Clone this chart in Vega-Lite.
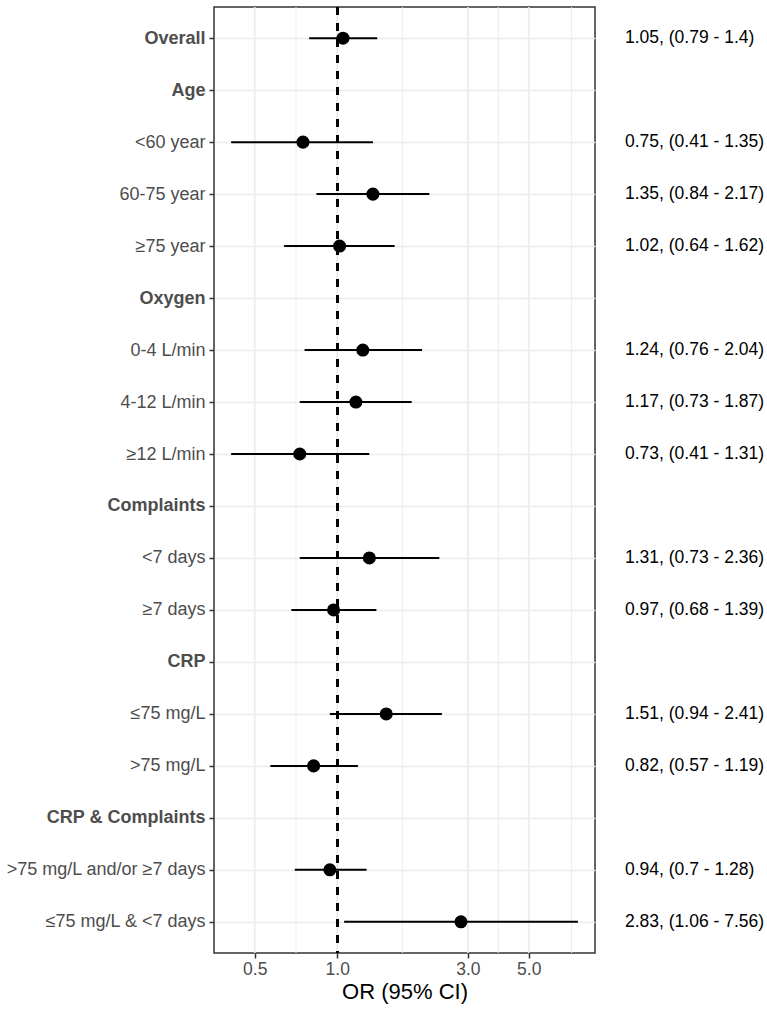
{
  "$schema": "https://vega.github.io/schema/vega-lite/v6.json",
  "padding": {"left": 4, "top": 5, "right": 0, "bottom": 0},
  "background": "white",
  "config": {"font": "Liberation Sans"},
  "datasets": {
    "rows": [
      {"label": "Overall", "or": 1.05, "lo": 0.79, "hi": 1.4, "txt": "1.05, (0.79 - 1.4)"},
      {"label": "Age", "or": null, "lo": null, "hi": null, "txt": ""},
      {"label": "<60 year", "or": 0.75, "lo": 0.41, "hi": 1.35, "txt": "0.75, (0.41 - 1.35)"},
      {"label": "60-75 year", "or": 1.35, "lo": 0.84, "hi": 2.17, "txt": "1.35, (0.84 - 2.17)"},
      {"label": "≥75 year", "or": 1.02, "lo": 0.64, "hi": 1.62, "txt": "1.02, (0.64 - 1.62)"},
      {"label": "Oxygen", "or": null, "lo": null, "hi": null, "txt": ""},
      {"label": "0-4 L/min", "or": 1.24, "lo": 0.76, "hi": 2.04, "txt": "1.24, (0.76 - 2.04)"},
      {"label": "4-12 L/min", "or": 1.17, "lo": 0.73, "hi": 1.87, "txt": "1.17, (0.73 - 1.87)"},
      {"label": "≥12 L/min", "or": 0.73, "lo": 0.41, "hi": 1.31, "txt": "0.73, (0.41 - 1.31)"},
      {"label": "Complaints", "or": null, "lo": null, "hi": null, "txt": ""},
      {"label": "<7 days", "or": 1.31, "lo": 0.73, "hi": 2.36, "txt": "1.31, (0.73 - 2.36)"},
      {"label": "≥7 days", "or": 0.97, "lo": 0.68, "hi": 1.39, "txt": "0.97, (0.68 - 1.39)"},
      {"label": "CRP", "or": null, "lo": null, "hi": null, "txt": ""},
      {"label": "≤75 mg/L", "or": 1.51, "lo": 0.94, "hi": 2.41, "txt": "1.51, (0.94 - 2.41)"},
      {"label": ">75 mg/L", "or": 0.82, "lo": 0.57, "hi": 1.19, "txt": "0.82, (0.57 - 1.19)"},
      {"label": "CRP & Complaints", "or": null, "lo": null, "hi": null, "txt": ""},
      {"label": ">75 mg/L and/or ≥7 days", "or": 0.94, "lo": 0.7, "hi": 1.28, "txt": "0.94, (0.7 - 1.28)"},
      {"label": "≤75 mg/L & <7 days", "or": 2.83, "lo": 1.06, "hi": 7.56, "txt": "2.83, (1.06 - 7.56)"}
    ],
    "grid": [
      {"g": 0.5, "kind": "major"},
      {"g": 1.0, "kind": "major"},
      {"g": 3.0, "kind": "major"},
      {"g": 5.0, "kind": "major"},
      {"g": 0.7071, "kind": "minor"},
      {"g": 1.732, "kind": "minor"},
      {"g": 3.873, "kind": "minor"},
      {"g": 7.17, "kind": "minor"}
    ]
  },
  "hconcat": [
    {
      "width": 381,
      "height": 946,
      "view": {"stroke": "#333333", "strokeWidth": 1.5},
      "layer": [
        {
          "data": {"name": "grid"},
          "transform": [{"filter": "datum.kind == 'major'"}],
          "mark": {"type": "rule", "color": "#EBEBEB", "strokeWidth": 1.7},
          "encoding": {
            "x": {"field": "g", "type": "quantitative", "scale": {"type": "log", "domain": [0.355, 8.73], "nice": false}}
          }
        },
        {
          "data": {"name": "grid"},
          "transform": [{"filter": "datum.kind == 'minor'"}],
          "mark": {"type": "rule", "color": "#EBEBEB", "strokeWidth": 0.9},
          "encoding": {
            "x": {"field": "g", "type": "quantitative"}
          }
        },
        {
          "data": {"name": "rows"},
          "mark": {"type": "rule", "color": "black", "strokeWidth": 2},
          "encoding": {
            "y": {
              "field": "label", "type": "nominal", "sort": null,
              "scale": {"type": "point", "padding": 0.6, "domain": ["Overall", "Age", "<60 year", "60-75 year", "≥75 year", "Oxygen", "0-4 L/min", "4-12 L/min", "≥12 L/min", "Complaints", "<7 days", "≥7 days", "CRP", "≤75 mg/L", ">75 mg/L", "CRP & Complaints", ">75 mg/L and/or ≥7 days", "≤75 mg/L & <7 days"]},
              "axis": {
                "title": null,
                "domain": false,
                "grid": true,
                "gridColor": "#EBEBEB",
                "gridWidth": 1.7,
                "ticks": true,
                "tickColor": "#333333",
                "tickSize": 5,
                "tickWidth": 1.5,
                "labelFont": "Liberation Sans",
                "labelFontSize": 18,
                "labelColor": "#4D4D4D",
                "labelPadding": 4,
                "labelLimit": 400,
                "labelOverlap": false,
                "labelFontWeight": {"condition": {"test": "indexof(['Overall','Age','Oxygen','Complaints','CRP','CRP & Complaints'], datum.value) >= 0", "value": "bold"}, "value": "normal"}
              }
            },
            "x": {
              "field": "lo", "type": "quantitative",
              "axis": {
                "values": [0.5, 1, 3, 5],
                "format": ".1f",
                "grid": false,
                "domain": false,
                "tickColor": "#333333",
                "tickSize": 5,
                "tickWidth": 1.5,
                "labelFont": "Liberation Sans",
                "labelFontSize": 17.5,
                "labelColor": "#4D4D4D",
                "labelPadding": 2,
                "title": "OR (95% CI)",
                "titleFont": "Liberation Sans",
                "titleFontSize": 22,
                "titleFontWeight": "normal",
                "titleColor": "black",
                "titlePadding": 4
              }
            },
            "x2": {"field": "hi"}
          }
        },
        {
          "data": {"name": "rows"},
          "mark": {"type": "rule", "color": "black", "strokeWidth": 2, "strokeDash": [8, 8]},
          "encoding": {
            "x": {"datum": 1}
          }
        },
        {
          "data": {"name": "rows"},
          "mark": {"type": "point", "shape": "circle", "filled": true, "color": "black", "opacity": 1, "size": 170},
          "encoding": {
            "y": {"field": "label", "type": "nominal", "sort": null},
            "x": {"field": "or", "type": "quantitative"}
          }
        }
      ]
    },
    {
      "width": 140,
      "height": 946,
      "view": {"stroke": null},
      "data": {"name": "rows"},
      "mark": {"type": "text", "align": "left", "baseline": "middle", "font": "Liberation Sans", "fontSize": 17.5, "color": "black"},
      "encoding": {
        "y": {"field": "label", "type": "nominal", "sort": null, "scale": {"type": "point", "padding": 0.6, "domain": ["Overall", "Age", "<60 year", "60-75 year", "≥75 year", "Oxygen", "0-4 L/min", "4-12 L/min", "≥12 L/min", "Complaints", "<7 days", "≥7 days", "CRP", "≤75 mg/L", ">75 mg/L", "CRP & Complaints", ">75 mg/L and/or ≥7 days", "≤75 mg/L & <7 days"]}, "axis": null},
        "x": {"datum": 0, "type": "quantitative", "scale": {"domain": [0, 1]}, "axis": null},
        "text": {"field": "txt"}
      }
    }
  ],
  "spacing": 29
}
